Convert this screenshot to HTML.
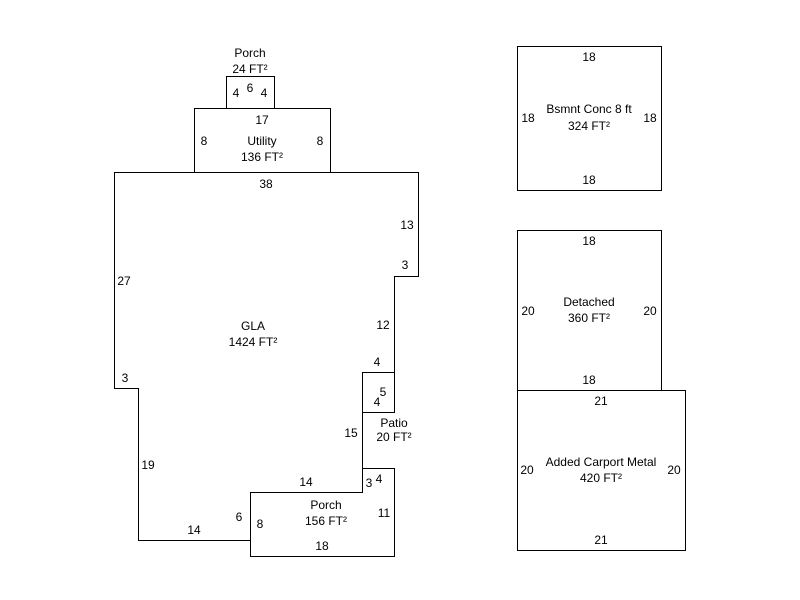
<!DOCTYPE html>
<html><head><style>body{margin:0;background:#fff}svg{display:block}text{font-family:"Liberation Sans",Arial,sans-serif;font-size:12px;fill:#000}</style></head>
<body>
<svg width="800" height="600" viewBox="0 0 800 600" xmlns="http://www.w3.org/2000/svg">
<g fill="none" stroke="#000" stroke-width="1" shape-rendering="crispEdges">
<polygon points="114.5,172.5 418.5,172.5 418.5,276.5 394.5,276.5 394.5,372.5 362.5,372.5 362.5,492.5 250.5,492.5 250.5,540.5 138.5,540.5 138.5,388.5 114.5,388.5"/>
<rect x="362.5" y="372.5" width="32" height="40"/>
<polygon points="250.5,492.5 362.5,492.5 362.5,468.5 394.5,468.5 394.5,556.5 250.5,556.5"/>
<rect x="194.5" y="108.5" width="136" height="64"/>
<rect x="226.5" y="76.5" width="48" height="32"/>
<rect x="517.5" y="46.5" width="144" height="144"/>
<rect x="517.5" y="230.5" width="144" height="160"/>
<rect x="517.5" y="390.5" width="168" height="160"/>
</g>
<g text-anchor="middle">
<text x="250" y="57">Porch</text><text x="250" y="73">24 FT²</text>
<text x="236" y="97">4</text><text x="250" y="92">6</text><text x="264" y="97">4</text>
<text x="262" y="124">17</text><text x="204" y="145">8</text><text x="320" y="145">8</text>
<text x="262" y="145">Utility</text><text x="262" y="161">136 FT²</text>
<text x="266" y="188">38</text><text x="407" y="229">13</text><text x="405" y="269">3</text>
<text x="124" y="285">27</text><text x="383" y="329">12</text>
<text x="253" y="330">GLA</text><text x="253" y="346">1424 FT²</text>
<text x="377" y="366">4</text><text x="125" y="382">3</text>
<text x="383" y="396">5</text><text x="377" y="406">4</text>
<text x="394" y="427">Patio</text><text x="394" y="441">20 FT²</text>
<text x="351" y="437">15</text><text x="148" y="469">19</text>
<text x="379" y="483">4</text><text x="369" y="487">3</text>
<text x="306" y="486">14</text>
<text x="326" y="509">Porch</text><text x="326" y="525">156 FT²</text>
<text x="239" y="521">6</text><text x="260" y="528">8</text><text x="384" y="517">11</text>
<text x="194" y="534">14</text><text x="322" y="550">18</text>
<text x="589" y="61">18</text><text x="528" y="122">18</text><text x="650" y="122">18</text>
<text x="589" y="113">Bsmnt Conc 8 ft</text><text x="589" y="130">324 FT²</text>
<text x="589" y="184">18</text>
<text x="589" y="245">18</text><text x="528" y="315">20</text><text x="650" y="315">20</text>
<text x="589" y="306">Detached</text><text x="589" y="322">360 FT²</text>
<text x="589" y="384">18</text>
<text x="601" y="405">21</text><text x="527" y="474">20</text><text x="674" y="474">20</text>
<text x="601" y="466">Added Carport Metal</text><text x="601" y="482">420 FT²</text>
<text x="601" y="544">21</text>
</g>
</svg>
</body></html>
